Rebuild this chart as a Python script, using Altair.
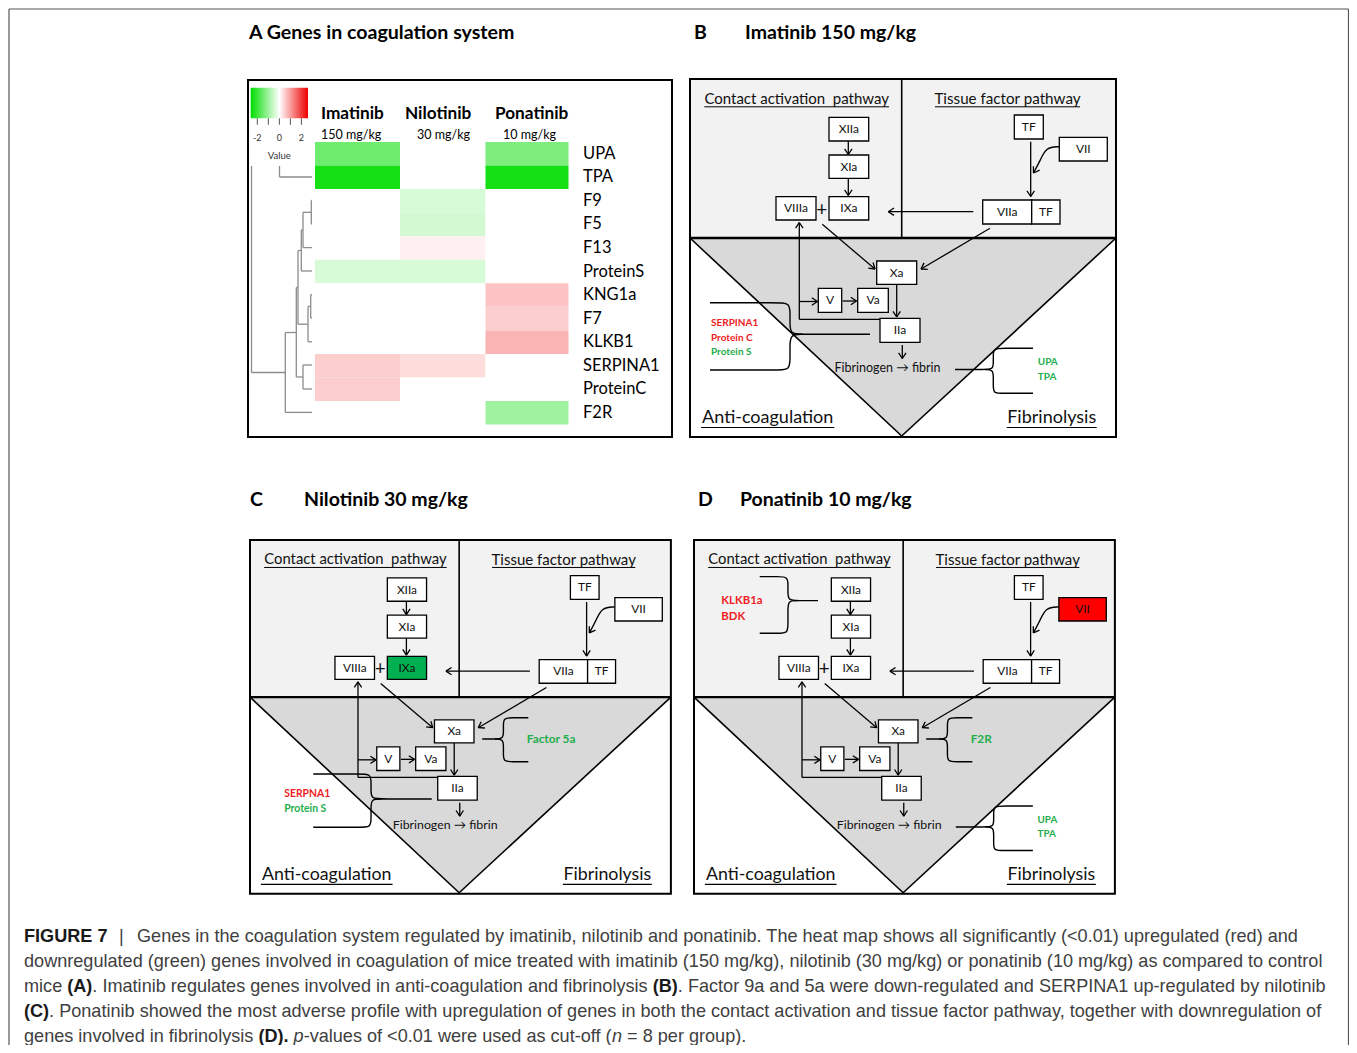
import math
import altair as alt
import pandas as pd

# ------------------------------------------------------------------ data
# Panel A heat map (value = regulation score, 0 = not significant)
genes = ["UPA", "TPA", "F9", "F5", "F13", "ProteinS", "KNG1a", "F7",
         "KLKB1", "SERPINA1", "ProteinC", "F2R"]
drugs = ["Imatinib", "Nilotinib", "Ponatinib"]
doses = ["150 mg/kg", "30 mg/kg", "10 mg/kg"]
imatinib_value = [-1.48, -2.40, 0.0, 0.0, 0.0, -0.41, 0.0, 0.0, 0.0, 0.51, 0.51, 0.0]
nilotinib_value = [0.0, 0.0, -0.41, -0.46, 0.15, -0.41, 0.0, 0.0, 0.0, 0.36, 0.0, 0.0]
ponatinib_value = [-1.33, -2.40, 0.0, 0.0, 0.0, 0.0, 0.61, 0.51, 0.76, 0.0, 0.0, -0.97]
legend_tick_values = [-2, -1, 0, 1, 2]
legend_label_values = [-2, 0, 2]
legend_title = "Value"
panel_a_title = "A Genes in coagulation system"

# Panels B-D pathway diagrams
panel_letters = ["B", "C", "D"]
factor_keys = ["XIIa", "XIa", "IXa", "VIIIa", "TF1", "VII", "VIIa", "TF2", "Xa", "V", "Va", "IIa"]
factor_labels = ["XIIa", "XIa", "IXa", "VIIIa", "TF", "VII", "VIIa", "TF", "Xa", "V", "Va", "IIa"]
regulated_factor = {"B": {}, "C": {"IXa": "down"}, "D": {"VII": "up"}}
gene_groups = [  # panel, site, genes, direction
    ("B", "anticoag", ["SERPINA1", "Protein C", "Protein S"], ["up", "up", "down"]),
    ("B", "fibrinolysis", ["UPA", "TPA"], ["down", "down"]),
    ("C", "anticoag", ["SERPNA1", "Protein S"], ["up", "down"]),
    ("C", "xa", ["Factor 5a"], ["down"]),
    ("D", "contact", ["KLKB1a", "BDK"], ["up", "up"]),
    ("D", "xa", ["F2R"], ["down"]),
    ("D", "fibrinolysis", ["UPA", "TPA"], ["down", "down"]),
]
region_titles = ["Contact activation\u00a0 pathway", "Tissue factor pathway"]
outcome_titles = ["Anti-coagulation", "Fibrinolysis"]
product_text = "Fibrinogen \u2192 fibrin"

caption_lines = [
    [("FIGURE 7", "b"), ("|", "r"), ("Genes in the coagulation system regulated by imatinib, nilotinib and ponatinib. The heat map shows all significantly (<0.01) upregulated (red) and", "r")],
    [("downregulated (green) genes involved in coagulation of mice treated with imatinib (150 mg/kg), nilotinib (30 mg/kg) or ponatinib (10 mg/kg) as compared to control", "r")],
    [("mice ", "r"), ("(A)", "b"), (". Imatinib regulates genes involved in anti-coagulation and fibrinolysis ", "r"), ("(B)", "b"), (". Factor 9a and 5a were down-regulated and SERPINA1 up-regulated by nilotinib", "r")],
    [("(C)", "b"), (". Ponatinib showed the most adverse profile with upregulation of genes in both the contact activation and tissue factor pathway, together with downregulation of", "r")],
    [("genes involved in fibrinolysis ", "r"), ("(D). ", "b"), ("p", "i"), ("-values of <0.01 were used as cut-off (", "r"), ("n", "i"), (" = 8 per group).", "r")],
]

# ------------------------------------------------------------------ layout (page pixels)
XS = alt.Scale(domain=[8, 1349], nice=False, zero=False)
YS = alt.Scale(domain=[1045, 8], nice=False, zero=False)
GREEN_HM, RED_HM = "#00dd00", "#ee0000"
UP_COL, DOWN_COL = "#ee1c24", "#1fae4b"
FILL_UP, FILL_DOWN = "#ff0000", "#00b050"

HM_COL_LEFT = [315, 400, 485.5]
HM_COL_RIGHT = [400, 485.5, 568.5]
HM_ROW_TOP, HM_ROW_H = 142.0, 23.55
HM_LABEL_X = 583
HDR_NAME_X, HDR_DOSE_X = [321, 405, 495], [321, 417, 503]
LEG = (250.7, 308.0, 87.7, 118.3)
LEG_DOMAIN = (-2.6, 2.6)

DENDRO = [
    (251.5, 166, 251.5, 372.5), (251.5, 372.5, 285.3, 372.5),
    (279.5, 166, 279.5, 177), (279.5, 177, 312, 177),
    (285.3, 332.5, 285.3, 412.4), (285.3, 412.4, 312, 412.4),
    (285.3, 332.5, 296.3, 332.5), (296.3, 287.5, 296.3, 377),
    (296.3, 377, 303, 377), (303, 365, 303, 389), (303, 365, 312, 365), (303, 389, 312, 389),
    (296.3, 287.5, 298, 287.5), (298, 250.5, 298, 324.2),
    (298, 324.2, 308, 324.2), (308, 306.4, 308, 341.8), (308, 341.8, 312, 341.8),
    (308, 306.4, 310.7, 306.4), (310.7, 294.7, 310.7, 318),
    (310.7, 294.7, 312, 294.7), (310.7, 318, 312, 318),
    (298, 250.5, 301.3, 250.5), (301.3, 230, 301.3, 271), (301.3, 271, 312, 271),
    (301.3, 230, 303, 230), (303, 212.3, 303, 247.6), (303, 247.6, 312, 247.6),
    (303, 212.3, 311.3, 212.3), (311.3, 200.5, 311.3, 224),
    (311.3, 200.5, 312, 200.5), (311.3, 224, 312, 224),
]

PANEL_FRAMES = {"B": (690, 79, 1.0), "C": (250, 540, 0.988), "D": (694, 540, 0.988)}
LETTER_POS = {"B": (694, 33, 745), "C": (250, 500, 304), "D": (698, 500, 740)}
W, H, TOP_H, DIV_X, APEX_Y = 426, 358, 159, 211.7, 357
BOXES = {
    "XIIa": (139, 38.3, 178.7, 62), "XIa": (139, 76, 178.7, 99.3),
    "IXa": (139, 117.7, 178.7, 141), "VIIIa": (86, 117.7, 126, 141),
    "TF1": (324.3, 36, 353.3, 60), "VII": (369.3, 58.3, 417.3, 82),
    "VIIa": (292.7, 121, 341.7, 145), "TF2": (341.7, 121, 370, 145),
    "Xa": (186.7, 182, 226.7, 205.3), "V": (128.3, 209.3, 151.7, 233.3),
    "Va": (167.7, 209.3, 198.3, 233.3), "IIa": (190, 239.3, 230, 263.3),
}
ARROWS = [
    [(158.3, 62), (158.3, 75.5)], [(158.3, 99.3), (158.3, 116.5)],
    [(340.7, 62.7), (340.7, 117.5)], [(283.3, 132.7), (198.3, 132.7)],
    [(132.3, 145.3), (185, 190)], [(300, 149.3), (231, 190)],
    [(206.7, 205.3), (206.7, 238)], [(152.7, 222), (166.5, 222)],
    [(190, 240.3), (109.3, 240.3), (109.3, 143.5)], [(109.3, 222.5), (127.5, 222.5)],
    [(212.3, 266), (212.3, 279.5)],
]
VII_CURVE = [(369.3, 67.7), (356, 68), (350, 82), (343.5, 94)]
BRACES = {  # arm_x, spine_x, y_top, y_tip, y_bot, tip_x
    ("B", "anticoag"): (20, 100, 223.7, 255.3, 291, 180),
    ("C", "anticoag"): (64, 122.5, 236.8, 262.1, 290.8, 184),
    ("D", "contact"): (66.5, 95.1, 37.1, 61.4, 94.4, 125.5),
    ("C", "xa"): (281.7, 256.5, 179.9, 201.4, 224.4, 235),
    ("D", "xa"): (281.7, 256.5, 179.9, 201.4, 224.4, 235),
    ("B", "fibrinolysis"): (343, 303.3, 269.3, 290.5, 314.3, 265),
    ("D", "fibrinolysis"): (343, 303.3, 269.3, 290.5, 314.3, 265),
}
GROUP_TEXT = {  # x, first y, line step, font size
    ("B", "anticoag"): (21, 244.3, 14.2, 10),
    ("C", "anticoag"): (34.7, 257.4, 14.9, 10.5),
    ("D", "contact"): (27.6, 61.7, 15.9, 11.5),
    ("C", "xa"): (280.1, 201.4, 0, 12),
    ("D", "xa"): (280, 201.4, 0, 12),
    ("B", "fibrinolysis"): (347.7, 283.3, 14.4, 10),
    ("D", "fibrinolysis"): (347.7, 283.6, 14.2, 10),
}
CAP_SIZE = 18.1
CAPTION_FIXED_X = {0: [24, 119, 137]}
CAPTION_X0, CAPTION_Y0, CAPTION_DY = 24, 937, 25

# Arial/Liberation Sans advance widths (1/1000 em) for laying caption pieces side by side
_REG = {" ": 278, "(": 333, ")": 333, ",": 278, "-": 333, ".": 278, "/": 278, "<": 584, "=": 584,
        "|": 260, "A": 667, "B": 667, "C": 722, "D": 722, "E": 667, "F": 611, "G": 778, "I": 278,
        "N": 722, "P": 667, "R": 722, "S": 667, "T": 611, "U": 722,
        "a": 556, "b": 556, "c": 500, "d": 556, "e": 556, "f": 278, "g": 556, "h": 556, "i": 222,
        "j": 222, "k": 500, "l": 222, "m": 833, "n": 556, "o": 556, "p": 556, "q": 556, "r": 333,
        "s": 500, "t": 278, "u": 556, "v": 500, "w": 722, "x": 500, "y": 500, "z": 500}
_BOLD = {" ": 278, "(": 333, ")": 333, ".": 278, "A": 722, "B": 722, "C": 722, "D": 722,
         "E": 667, "F": 611, "G": 778, "I": 278, "R": 722, "U": 722}


def text_width(s, style, size):
    tab = _BOLD if style == "b" else _REG
    return sum(tab.get(c, 556) for c in s) / 1000.0 * size


# ------------------------------------------------------------------ builders
rules, bg_rects, fg_rects, areas, curves, texts = [], [], [], [], [], []


def add_rule(x1, y1, x2, y2, color="#000000", sw=1.3):
    rules.append(dict(x=x1, y=y1, x2=x2, y2=y2, color=color, sw=sw))


def add_text(style, x, y, text, size, color="#000000"):
    texts.append(dict(style=style, x=x, y=y, text=text, size=size, color=color))


def add_head(tx, ty, fx, fy, L, sw, ang=33):
    dx, dy = tx - fx, ty - fy
    n = math.hypot(dx, dy)
    ux, uy = -dx / n, -dy / n
    for a in (ang, -ang):
        r = math.radians(a)
        vx = ux * math.cos(r) - uy * math.sin(r)
        vy = ux * math.sin(r) + uy * math.cos(r)
        add_rule(tx, ty, tx + L * vx, ty + L * vy, "#000000", sw)


# outer figure frame
add_rule(9, 9, 1348.5, 9, "#555555", 1.2)
add_rule(9, 9, 9, 1060, "#555555", 1.2)
add_rule(1348.5, 9, 1348.5, 1060, "#555555", 1.2)

# panel A
add_text("latob_l", 249, 33, panel_a_title, 19.6)
heat_rows = []
for j, (drug, vals) in enumerate(zip(drugs, [imatinib_value, nilotinib_value, ponatinib_value])):
    for i, (g, v) in enumerate(zip(genes, vals)):
        heat_rows.append(dict(gene=g, drug=drug, value=v,
                              x=HM_COL_LEFT[j], x2=HM_COL_RIGHT[j],
                              y=HM_ROW_TOP + i * HM_ROW_H, y2=HM_ROW_TOP + (i + 1) * HM_ROW_H))
    add_text("latob_l", HDR_NAME_X[j], 114, drug, 17.2)
    add_text("lato_l", HDR_DOSE_X[j], 135, doses[j], 12.5)
for i, g in enumerate(genes):
    add_text("lato_l", HM_LABEL_X, HM_ROW_TOP + (i + 0.5) * HM_ROW_H, g, 16.5)


def leg_x(v):
    return LEG[0] + (v - LEG_DOMAIN[0]) / (LEG_DOMAIN[1] - LEG_DOMAIN[0]) * (LEG[1] - LEG[0])


for v in legend_tick_values:
    add_rule(leg_x(v), LEG[3], leg_x(v), LEG[3] + 6.5, "#555555", 1.0)
for v in legend_label_values:
    add_text("lato", leg_x(v), 138, str(v), 9, "#333333")
add_text("lato", leg_x(0), 156, legend_title, 9.5, "#333333")
for seg in DENDRO:
    add_rule(*seg, color="#8c8c8c", sw=1.3)
fg_rects.append(dict(x=248, y=80, x2=672, y2=437, fill="transparent", stroke="#000000", sw=2))

# panels B-D
for idx, letter in enumerate(panel_letters):
    ox, oy, s = PANEL_FRAMES[letter]

    def P(x, y, ox=ox, oy=oy, s=s):
        return ox + s * x, oy + s * y

    lx, ly, tx = LETTER_POS[letter]
    add_text("latob_l", lx, ly, letter, 19.5)
    add_text("latob_l", tx, ly, f"{drugs[idx]} {doses[idx]}", 19.5)

    a0, b0 = P(0, 0)
    a1, b1 = P(W, TOP_H)
    bg_rects.append(dict(x=a0, y=b0, x2=a1, y2=b1, fill="#f2f2f2", stroke="transparent", sw=0))
    for (vx, vy2) in [(0, TOP_H), (DIV_X, APEX_Y), (W, TOP_H)]:
        px, py = P(vx, TOP_H)
        _, py2 = P(vx, vy2)
        areas.append(dict(panel=letter, x=px, y=py, y2=py2))
    # structural lines
    add_rule(*P(0, TOP_H), *P(W, TOP_H), sw=2.4)
    add_rule(*P(DIV_X, 0), *P(DIV_X, TOP_H), sw=1.6)
    add_rule(*P(0, TOP_H), *P(DIV_X, APEX_Y), sw=1.6)
    add_rule(*P(W, TOP_H), *P(DIV_X, APEX_Y), sw=1.6)
    # titles with underline
    add_text("lato", *P(106.7, 20), region_titles[0], 15.0 * s, "#111111")
    add_text("lato", *P(317.5, 20), region_titles[1], 15.2 * s, "#111111")
    add_rule(*P(14.3, 27.8), *P(199, 27.8), sw=1)
    add_rule(*P(245, 27.8), *P(390, 27.8), sw=1)
    add_text("lato", *P(77.7, 339.3), outcome_titles[0], 18 * s, "#111111")
    add_text("lato", *P(361.7, 339.3), outcome_titles[1], 18 * s, "#111111")
    add_rule(*P(11, 348.5), *P(144.3, 348.5), sw=1.2)
    add_rule(*P(316.7, 348.5), *P(406.7, 348.5), sw=1.2)
    add_text("lato", *P(197.5, 288.7), product_text, 12.5 * s, "#111111")
    add_text("lato", *P(131.7, 131.0), "+", 19 * s, "#111111")
    # arrows
    for pts in ARROWS:
        tp = [P(*p) for p in pts]
        for (x1, y1), (x2, y2) in zip(tp[:-1], tp[1:]):
            add_rule(x1, y1, x2, y2, sw=1.3)
        add_head(*tp[-1], *tp[-2], 6.8 * s, 1.3)
    cp = [P(*p) for p in VII_CURVE]
    for k, (x, y) in enumerate(cp):
        curves.append(dict(cid=f"{letter}-vii", ord=k, x=x, y=y))
    add_head(*cp[-1], *P(349.5, 84.5), 6.8 * s, 1.3)
    # factor boxes
    for key, lab in zip(factor_keys, factor_labels):
        x0, y0, x1, y1 = BOXES[key]
        reg = regulated_factor[letter].get(key)
        fill = FILL_UP if reg == "up" else FILL_DOWN if reg == "down" else "#ffffff"
        p0, p1 = P(x0, y0), P(x1, y1)
        fg_rects.append(dict(x=p0[0], y=p0[1], x2=p1[0], y2=p1[1], fill=fill, stroke="#000000", sw=1.3))
        add_text("lato", *P((x0 + x1) / 2, (y0 + y1) / 2), lab, 12 * s, "#111111")
    p0, p1 = P(0, 0), P(W, H)
    fg_rects.append(dict(x=p0[0], y=p0[1], x2=p1[0], y2=p1[1], fill="transparent", stroke="#000000", sw=2))

# gene groups with braces
for (letter, site, gl, dl) in gene_groups:
    ox, oy, s = PANEL_FRAMES[letter]

    def P(x, y, ox=ox, oy=oy, s=s):
        return ox + s * x, oy + s * y

    arm_x, sp, yt, yc, yb, tipx = BRACES[(letter, site)]
    sg = 1 if tipx > sp else -1
    r = max(6.0, min(13.0, 0.4 * (yc - yt)))
    top = [(arm_x, yt), (sp - sg * r, yt), (sp, yt), (sp, yt + r), (sp, yc - r), (sp, yc),
           (sp + sg * r, yc), (tipx, yc)]
    bot = [(sp + sg * r, yc), (sp, yc), (sp, yc + r), (sp, yb - r), (sp, yb), (sp - sg * r, yb),
           (arm_x, yb)]
    for part, pts in (("t", top), ("b", bot)):
        for k, p in enumerate(pts):
            x, y = P(*p)
            curves.append(dict(cid=f"{letter}-{site}-{part}", ord=k, x=x, y=y))
    gx, gy, gdy, gfs = GROUP_TEXT[(letter, site)]
    for k, (g, d) in enumerate(zip(gl, dl)):
        add_text("latob_l", *P(gx, gy + k * gdy), g, gfs * s, UP_COL if d == "up" else DOWN_COL)

# caption: pieces laid side by side using the font's advance widths
for li, line in enumerate(caption_lines):
    y = CAPTION_Y0 + li * CAPTION_DY
    x = CAPTION_X0
    fixed = CAPTION_FIXED_X.get(li)
    for k, (txt, st) in enumerate(line):
        if fixed:
            x = fixed[k]
        lead = len(txt) - len(txt.lstrip(" "))
        x_draw = x + text_width(" " * lead, st, CAP_SIZE)
        style = {"r": "cap", "b": "capb", "i": "capi"}[st]
        col = "#1a1a1a" if st == "b" else "#404040"
        add_text(style, x_draw, y, txt.strip(" "), CAP_SIZE, col)
        x = x + text_width(txt, st, CAP_SIZE)

# ------------------------------------------------------------------ chart
X = alt.X("x:Q", scale=XS, axis=None)
Y = alt.Y("y:Q", scale=YS, axis=None)

bg_layer = alt.Chart(pd.DataFrame(bg_rects)).mark_rect().encode(
    x=X, y=Y, x2="x2:Q", y2="y2:Q",
    fill=alt.Fill("fill:N", scale=None), stroke=alt.Stroke("stroke:N", scale=None),
    strokeWidth=alt.StrokeWidth("sw:Q", scale=None))

area_layer = alt.Chart(pd.DataFrame(areas)).mark_area(color="#d9d9d9").encode(
    x=X, y=Y, y2="y2:Q", detail="panel:N")

heat_layer = alt.Chart(pd.DataFrame(heat_rows)).mark_rect().encode(
    x=X, y=Y, x2="x2:Q", y2="y2:Q",
    color=alt.Color("value:Q", legend=None,
                    scale=alt.Scale(domain=[LEG_DOMAIN[0], 0, LEG_DOMAIN[1]],
                                    range=[GREEN_HM, "#ffffff", RED_HM], interpolate="rgb")))

grad = alt.LinearGradient(gradient="linear", x1=0, x2=1, y1=0, y2=0,
                          stops=[alt.GradientStop(offset=0, color=GREEN_HM),
                                 alt.GradientStop(offset=0.5, color="#ffffff"),
                                 alt.GradientStop(offset=1, color=RED_HM)])
legend_layer = alt.Chart(pd.DataFrame([dict(x=LEG[0], x2=LEG[1], y=LEG[2], y2=LEG[3])])).mark_rect(
    color=grad).encode(x=X, y=Y, x2="x2:Q", y2="y2:Q")

rule_layer = alt.Chart(pd.DataFrame(rules)).mark_rule().encode(
    x=X, y=Y, x2="x2:Q", y2="y2:Q",
    color=alt.Color("color:N", scale=None), strokeWidth=alt.StrokeWidth("sw:Q", scale=None))

curve_layer = alt.Chart(pd.DataFrame(curves)).mark_line(
    interpolate="basis", color="#000000", strokeWidth=1.4).encode(
    x=X, y=Y, detail="cid:N", order="ord:Q")

fg_layer = alt.Chart(pd.DataFrame(fg_rects)).mark_rect().encode(
    x=X, y=Y, x2="x2:Q", y2="y2:Q",
    fill=alt.Fill("fill:N", scale=None), stroke=alt.Stroke("stroke:N", scale=None),
    strokeWidth=alt.StrokeWidth("sw:Q", scale=None))

STYLES = {
    "lato": dict(font="Lato", fontWeight="normal", align="center"),
    "lato_l": dict(font="Lato", fontWeight="normal", align="left"),
    "latob_l": dict(font="Lato", fontWeight="bold", align="left"),
    "cap": dict(font="Liberation Sans", fontWeight="normal", align="left"),
    "capb": dict(font="Liberation Sans", fontWeight="bold", align="left"),
    "capi": dict(font="Liberation Sans", fontStyle="italic", align="left"),
}
tdf = pd.DataFrame(texts)
text_layers = []
for st, props in STYLES.items():
    sub = tdf[tdf["style"] == st]
    if len(sub) == 0:
        continue
    text_layers.append(alt.Chart(sub).mark_text(baseline="middle", **props).encode(
        x=X, y=Y, text="text:N",
        color=alt.Color("color:N", scale=None), size=alt.Size("size:Q", scale=None)))

chart = alt.layer(bg_layer, area_layer, heat_layer, legend_layer, rule_layer, curve_layer,
                  fg_layer, *text_layers).properties(
    width=1341, height=1037, padding=0,
    autosize=alt.AutoSizeParams(type="none")).configure_view(stroke=None)

chart.save("out.html", embed_options={"renderer": "svg", "actions": False})
